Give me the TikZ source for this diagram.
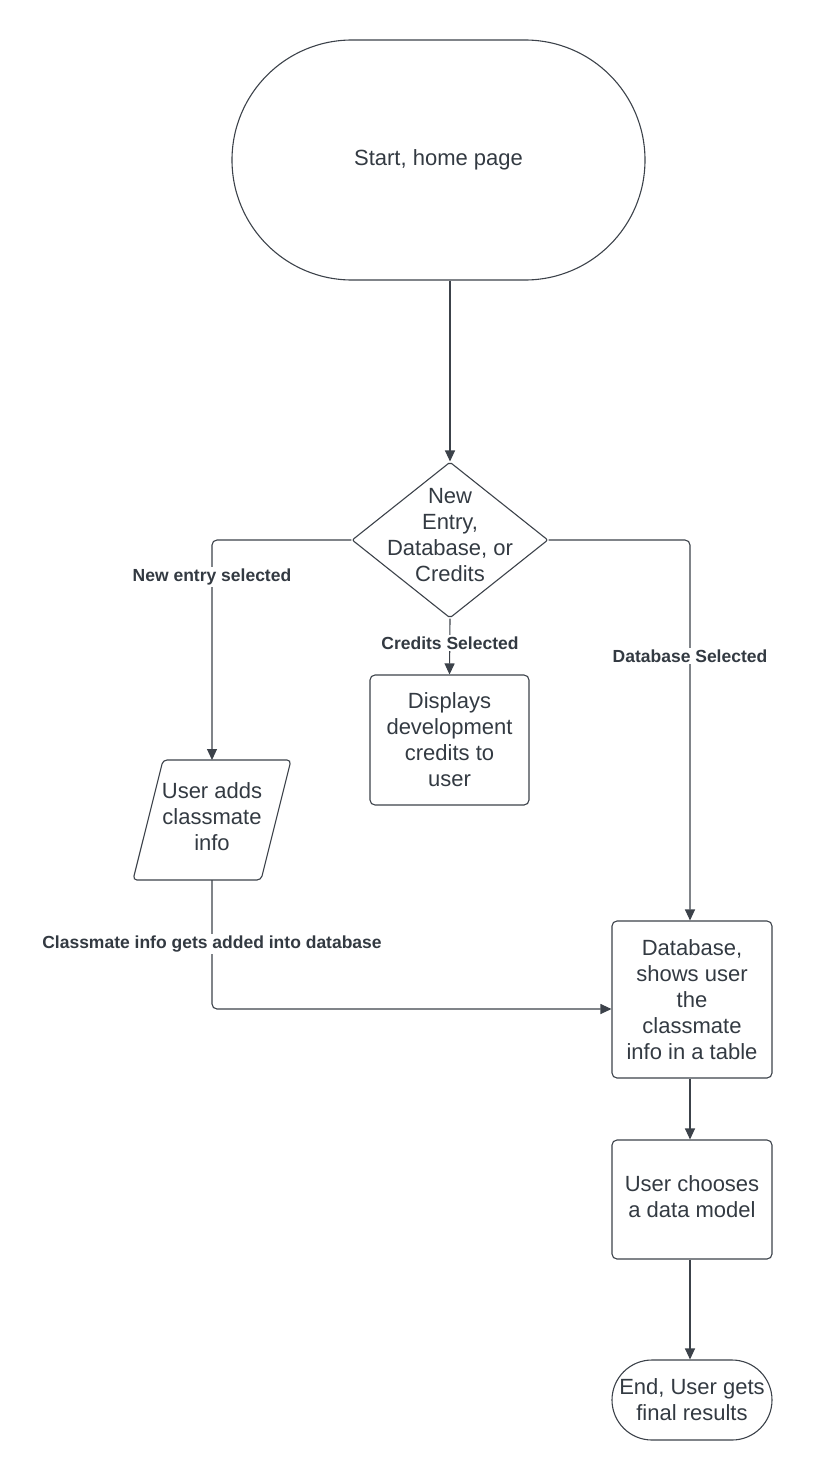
\documentclass[tikz,border=0pt]{standalone}
\usepackage{fontspec}
\setmainfont{Liberation Sans}
\usetikzlibrary{shapes.geometric,shapes.misc,arrows.meta}
\definecolor{linec}{HTML}{3C424A}
\definecolor{textc}{HTML}{333A42}
\tikzset{
  base/.style={draw=linec, line width=1.1pt, text=textc, font=\fontsize{22}{26}\selectfont, align=center, inner sep=0pt},
  term/.style={base, rounded rectangle, rounded rectangle arc length=180},
  procbox/.style={base, rectangle, rounded corners=5pt},
  decis/.style={base, diamond, rounded corners=2pt},
  plain/.style={text=textc, font=\fontsize{22}{26}\selectfont, align=center, inner sep=0pt},
  arr/.style={draw=linec, line width=1.1pt, -{Triangle[length=11pt,width=10pt]}, rounded corners=5pt},
  lbl/.style={fill=white, text=textc, font=\fontsize{17.5}{20}\bfseries\selectfont, inner sep=1.5pt},
}
\begin{document}
\begin{tikzpicture}[x=1pt,y=-1pt]
\useasboundingbox (0,0) rectangle (812,1480);
% start terminal
\node[term, minimum width=413pt, minimum height=240pt] (start) at (438.5,160) {Start, home page};
% decision
\node[decis, minimum width=196pt, minimum height=156pt] (d) at (450,540) {};
\node[plain] (dtext) at (450,535) {New\\Entry,\\Database, or\\Credits};
% credits box
\node[procbox, minimum width=159pt, minimum height=130pt] (credits) at (449.5,740) {Displays\\development\\credits to\\user};
% parallelogram
\coordinate (ptop) at (212,760);
\coordinate (pbot) at (212,880);
\draw[draw=linec, line width=1.1pt, rounded corners=4pt] (163,760) -- (291,760) -- (261,880) -- (133,880) -- cycle;
\node[plain] (para) at (212,816.5) {User adds\\classmate\\info};
% database box
\node[procbox, minimum width=160pt, minimum height=157pt] (db) at (692,999.5) {Database,\\shows user\\the\\classmate\\info in a table};
% model box
\node[procbox, minimum width=160pt, minimum height=119pt] (model) at (692,1199.5) {};
\node[plain] (mtext) at (692,1197) {User chooses\\a data model};
% end terminal
\node[term, minimum width=160pt, minimum height=80pt] (end) at (692,1400) {End, User gets\\final results};
% connectors
\draw[arr] (start.south -| d.north) -- (d.north);
\draw[arr] (d.west) -| (ptop);
\draw[arr] (d.south) -- (credits.north);
\draw[arr] (d.east) -| (db.north -| 690,0);
\draw[arr] (pbot) |- (db.west |- 0,1009);
\draw[arr] (db.south -| 690,0) -- (model.north -| 690,0);
\draw[arr] (model.south -| 690,0) -- (end.north -| 690,0);
% labels
\node[lbl] (l1) at (212,577) {New entry selected};
\node[lbl] (l2) at (450,643) {Credits Selected};
\node[lbl] (l3) at (690,656) {Database Selected};
\node[lbl] (l4) at (212,944) {Classmate info gets added into database};
\end{tikzpicture}
\end{document}
